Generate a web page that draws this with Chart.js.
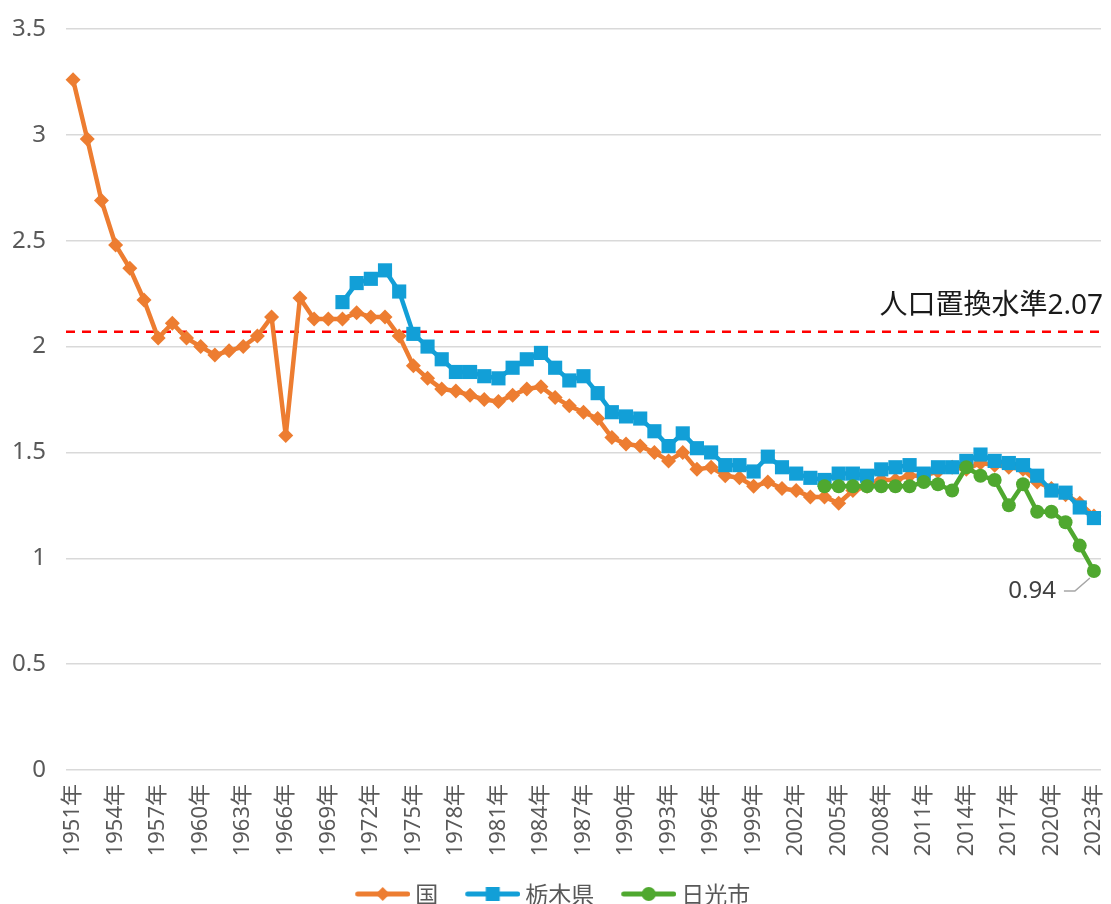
<!DOCTYPE html>
<html>
<head>
<meta charset="utf-8">
<script src="https://cdn.jsdelivr.net/npm/chart.js@4/dist/chart.umd.min.js"></script>
<style>
  html, body { margin: 0; padding: 0; background: #fff; }
  #wrap { width: 1111px; height: 904px; }
</style>
</head>
<body>
<div id="wrap"><canvas id="myChart" width="1111" height="904"></canvas></div>
<script>
// 年（1951年〜2023年）
const years = Array.from({ length: 73 }, (_, i) => (1951 + i) + '年');

// 合計特殊出生率：国（1951〜2023）
const kuni = [
  3.26, 2.98, 2.69, 2.48, 2.37, 2.22, 2.04, 2.11, 2.04, 2.00,
  1.96, 1.98, 2.00, 2.05, 2.14, 1.58, 2.23, 2.13, 2.13, 2.13,
  2.16, 2.14, 2.14, 2.05, 1.91, 1.85, 1.80, 1.79, 1.77, 1.75,
  1.74, 1.77, 1.80, 1.81, 1.76, 1.72, 1.69, 1.66, 1.57, 1.54,
  1.53, 1.50, 1.46, 1.50, 1.42, 1.43, 1.39, 1.38, 1.34, 1.36,
  1.33, 1.32, 1.29, 1.29, 1.26, 1.32, 1.34, 1.37, 1.37, 1.39,
  1.39, 1.41, 1.43, 1.42, 1.45, 1.44, 1.43, 1.42, 1.36, 1.33,
  1.30, 1.26, 1.20
];

// 栃木県（1970〜2023）
const tochigiStart = 1970;
const tochigi = [
  2.21, 2.30, 2.32, 2.36, 2.26, 2.06, 2.00, 1.94, 1.88, 1.88,
  1.86, 1.85, 1.90, 1.94, 1.97, 1.90, 1.84, 1.86, 1.78, 1.69,
  1.67, 1.66, 1.60, 1.53, 1.59, 1.52, 1.50, 1.44, 1.44, 1.41,
  1.48, 1.43, 1.40, 1.38, 1.37, 1.40, 1.40, 1.39, 1.42, 1.43,
  1.44, 1.40, 1.43, 1.43, 1.46, 1.49, 1.46, 1.45, 1.44, 1.39,
  1.32, 1.31, 1.24, 1.19
];

// 日光市（2004〜2023）
const nikkoStart = 2004;
const nikko = [
  1.34, 1.34, 1.34, 1.34, 1.34, 1.34, 1.34, 1.36, 1.35, 1.32,
  1.43, 1.39, 1.37, 1.25, 1.35, 1.22, 1.22, 1.17, 1.06, 0.94
];

// 人口置換水準
const replacementLevel = 2.07;

const COLORS = { kuni: '#ED7D31', tochigi: '#129FD7', nikko: '#4FA82F' };
const fontFam = "'Noto Sans', 'Noto Sans CJK JP', sans-serif";

function padFrom(startYear, arr) {
  const out = new Array(startYear - 1951).fill(null);
  return out.concat(arr);
}

// 凡例用：線＋マーカーの小さな画像（左側に透明な余白）
function legendIcon(color, style) {
  const c = document.createElement('canvas');
  c.width = 66; c.height = 18;
  const g = c.getContext('2d');
  const mid = 38.5;
  g.strokeStyle = color; g.fillStyle = color;
  g.lineWidth = 5; g.lineCap = 'round';
  g.beginPath(); g.moveTo(13.5, 9); g.lineTo(63.5, 9); g.stroke();
  g.beginPath();
  if (style === 'rectRot') {
    g.moveTo(mid, 2); g.lineTo(mid + 7, 9); g.lineTo(mid, 16); g.lineTo(mid - 7, 9);
  } else if (style === 'rect') {
    g.rect(mid - 7, 2, 14, 14);
  } else {
    g.arc(mid, 9, 7, 0, Math.PI * 2);
  }
  g.fill();
  return c;
}

const icons = [
  legendIcon(COLORS.kuni, 'rectRot'),
  legendIcon(COLORS.tochigi, 'rect'),
  legendIcon(COLORS.nikko, 'circle')
];

const refLinePlugin = {
  id: 'refLine',
  beforeDatasetsDraw(chart) {
    const { ctx, chartArea, scales: { y } } = chart;
    const py = y.getPixelForValue(replacementLevel);
    ctx.save();
    ctx.strokeStyle = '#FF0000';
    ctx.lineWidth = 2.4;
    ctx.setLineDash([9, 7]);
    ctx.beginPath();
    ctx.moveTo(chartArea.left, py);
    ctx.lineTo(chartArea.right + 2, py);
    ctx.stroke();
    ctx.restore();
  },
  afterDatasetsDraw(chart) {
    const { ctx, chartArea, scales: { y } } = chart;
    const py = y.getPixelForValue(replacementLevel);
    ctx.save();
    ctx.fillStyle = '#1a1a1a';
    ctx.font = '28px ' + fontFam;
    ctx.textAlign = 'right';
    ctx.textBaseline = 'alphabetic';
    ctx.fillText('人口置換水準' + replacementLevel.toFixed(2), chartArea.right + 2, py - 18);

    // 日光市 最終値の注記
    const meta = chart.getDatasetMeta(2);
    const pt = meta.data[meta.data.length - 1];
    const last = nikko[nikko.length - 1];
    ctx.strokeStyle = '#A6A6A6';
    ctx.lineWidth = 1.5;
    ctx.beginPath();
    ctx.moveTo(pt.x - 30, pt.y + 20);
    ctx.lineTo(pt.x - 19, pt.y + 20);
    ctx.lineTo(pt.x - 4, pt.y + 7);
    ctx.stroke();
    ctx.fillStyle = '#404040';
    ctx.font = '24px ' + fontFam;
    ctx.textBaseline = 'middle';
    ctx.fillText(last.toFixed(2), pt.x - 38, pt.y + 20);
    ctx.restore();
  }
};

const ctx = document.getElementById('myChart').getContext('2d');

const myChart = new Chart(ctx, {
  type: 'line',
  data: {
    labels: years,
    datasets: [
      {
        label: '国',
        data: kuni,
        borderColor: COLORS.kuni,
        backgroundColor: COLORS.kuni,
        borderWidth: 4.5,
        pointStyle: 'rectRot',
        pointRadius: 7.5,
        pointBorderWidth: 0,
        order: 3
      },
      {
        label: '栃木県',
        data: padFrom(tochigiStart, tochigi),
        borderColor: COLORS.tochigi,
        backgroundColor: COLORS.tochigi,
        borderWidth: 4.5,
        pointStyle: 'rect',
        pointRadius: 10,
        pointBorderWidth: 0,
        order: 2
      },
      {
        label: '日光市',
        data: padFrom(nikkoStart, nikko),
        borderColor: COLORS.nikko,
        backgroundColor: COLORS.nikko,
        borderWidth: 4.5,
        pointStyle: 'circle',
        pointRadius: 7,
        pointBorderWidth: 0,
        order: 1
      }
    ]
  },
  options: {
    responsive: false,
    animation: false,
    elements: {
      line: { tension: 0, borderJoinStyle: 'round', borderCapStyle: 'round' }
    },
    layout: { padding: { top: 29, left: 0, right: 10, bottom: -11.5 } },
    scales: {
      x: {
        offset: true,
        grid: { display: false, drawTicks: false },
        border: { display: false },
        ticks: {
          autoSkip: false,
          minRotation: 90,
          maxRotation: 90,
          padding: 14,
          color: '#595959',
          font: { family: fontFam, size: 22 },
          callback: function (val, index) {
            return index % 3 === 0 ? this.getLabelForValue(val) : '';
          }
        },
        afterFit(scale) {
          scale.height = 90;
          scale.paddingLeft = 0;
          scale.paddingRight = 0;
        }
      },
      y: {
        min: 0,
        max: 3.5,
        grid: { color: '#D9D9D9', lineWidth: 1.5, drawTicks: false },
        border: { display: false },
        ticks: {
          stepSize: 0.5,
          padding: 20,
          color: '#595959',
          font: { family: fontFam, size: 24 },
          callback: (v) => String(v)
        },
        afterFit(scale) {
          scale.width = 66;
          scale.paddingTop = 0;
          scale.paddingBottom = 0;
        }
      }
    },
    plugins: {
      tooltip: { enabled: false },
      legend: {
        position: 'bottom',
        labels: {
          usePointStyle: true,
          pointStyleWidth: 53,
          padding: 22.5,
          color: '#595959',
          font: { family: "'Noto Sans CJK JP', sans-serif", size: 23 },
          sort: (a, b) => a.datasetIndex - b.datasetIndex,
          generateLabels(chart) {
            const items = Chart.defaults.plugins.legend.labels.generateLabels(chart);
            items.forEach(it => { it.pointStyle = icons[it.datasetIndex]; });
            return items;
          }
        }
      }
    }
  },
  plugins: [refLinePlugin]
});
</script>
</body>
</html>
